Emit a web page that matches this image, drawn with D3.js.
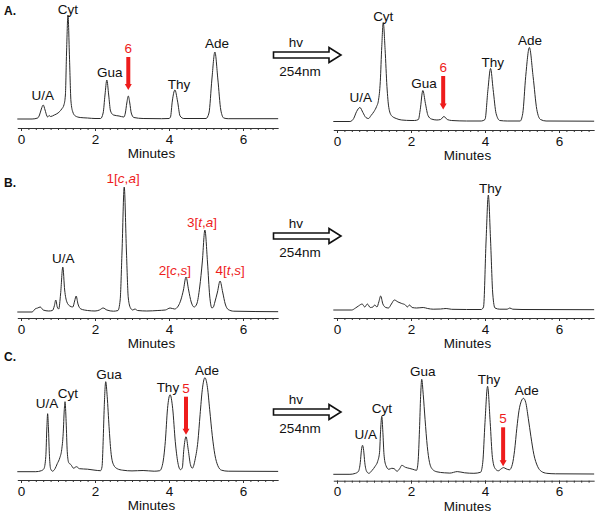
<!DOCTYPE html>
<html>
<head>
<meta charset="utf-8">
<script src="https://cdn.jsdelivr.net/npm/d3@7"></script>
<style>
body { margin: 0; background: #fff; }
text { font-family: "Liberation Sans", Arial, sans-serif; }
</style>
</head>
<body>
<div id="chart"></div>
<script>
// chromatogram traces: [retention time (min), detector signal]
var traceA1 = [[-0.1,0],[0.3,0],[0.45,1],[0.5,4],[0.55,10],[0.6,14],[0.65,9],[0.7,3],[0.72,2],[0.76,3.5],[0.8,2.5],[0.9,4],[1.0,6],[1.1,10],[1.16,14],[1.2,24],[1.23,65],[1.27,104],[1.31,62],[1.35,18],[1.4,7],[1.47,3],[1.6,1.5],[1.8,1],[2.0,0.5],[2.15,0.5],[2.22,6],[2.27,24],[2.32,39],[2.37,24],[2.42,8],[2.5,4],[2.65,3],[2.78,2],[2.82,6],[2.86,16],[2.9,23],[2.94,16],[2.98,6],[3.05,1.5],[3.3,0.5],[3.8,0.3],[4.0,0.5],[4.04,2],[4.09,18],[4.16,29],[4.23,18],[4.3,3],[4.4,0.5],[5.0,0.5],[5.08,6],[5.16,40],[5.24,67],[5.32,40],[5.4,9],[5.48,1],[5.6,0.3],[6.95,0.3]];
var traceA2 = [[-0.1,0],[0.35,0],[0.45,3],[0.53,10],[0.62,14],[0.7,9],[0.78,4],[0.85,3],[0.92,6],[1.0,10],[1.07,15],[1.12,21],[1.17,40],[1.21,75],[1.25,99],[1.3,72],[1.35,35],[1.4,14],[1.47,6],[1.6,3],[1.75,1.5],[2.0,1],[2.1,1],[2.2,2],[2.25,12],[2.32,31],[2.39,18],[2.46,6],[2.55,2.5],[2.7,1.5],[2.8,2],[2.89,5],[2.98,2],[3.1,1],[3.5,0.5],[3.9,0.5],[4.0,2],[4.08,32],[4.15,53],[4.22,32],[4.3,8],[4.4,1],[4.6,0.5],[4.95,0.5],[5.02,8],[5.1,45],[5.2,74],[5.3,45],[5.4,12],[5.5,2],[5.65,0.5],[6.95,0.3]];
var traceB1 = [[-0.1,0],[0.3,0],[0.38,3],[0.45,4],[0.52,5],[0.6,2],[0.75,1],[0.85,1.5],[0.9,6],[0.94,12],[0.98,5],[1.02,3],[1.07,18],[1.13,45],[1.18,22],[1.24,10],[1.32,6],[1.4,5],[1.45,11],[1.49,16],[1.54,8],[1.62,3],[1.8,1.5],[2.0,1],[2.12,2],[2.22,4],[2.32,2],[2.5,0.8],[2.62,1.5],[2.68,12],[2.73,60],[2.79,125],[2.85,60],[2.9,14],[2.96,4],[3.02,2],[3.08,3],[3.15,1.5],[3.4,1],[3.7,1.5],[3.9,2],[4.03,4],[4.15,3],[4.25,6],[4.32,12],[4.39,22],[4.46,35],[4.53,22],[4.6,10],[4.68,5],[4.75,8],[4.83,25],[4.9,50],[4.97,82],[5.04,50],[5.1,16],[5.16,4],[5.2,5],[5.24,10],[5.31,20],[5.38,31],[5.45,20],[5.52,8],[5.6,2.5],[5.75,0.8],[6.95,0.3]];
var traceB2 = [[-0.1,0],[0.4,0],[0.5,2],[0.58,4],[0.68,6],[0.75,3],[0.82,6],[0.9,2.5],[0.97,3],[1.02,5],[1.08,3],[1.13,8],[1.18,14],[1.24,6],[1.32,2.5],[1.39,2],[1.47,6],[1.55,10],[1.65,8],[1.75,6.5],[1.85,5],[1.9,3],[1.96,5],[2.03,2.5],[2.15,2],[2.33,2.5],[2.45,1.5],[2.6,0.8],[2.8,1],[2.95,1.5],[3.1,0.7],[3.5,0.5],[3.9,0.5],[3.96,3],[4.03,70],[4.09,115],[4.15,70],[4.21,16],[4.27,2],[4.4,0.8],[4.6,0.8],[4.67,2],[4.75,0.8],[5.0,0.5],[6.95,0.3]];
var traceC1 = [[-0.1,0],[0.4,0],[0.55,1],[0.62,3],[0.67,15],[0.7,45],[0.72,58],[0.74,45],[0.77,15],[0.8,3],[0.85,0.5],[0.92,3],[0.98,8],[1.05,14],[1.1,22],[1.14,38],[1.17,62],[1.19,70],[1.22,50],[1.25,20],[1.29,9],[1.35,7],[1.42,3.5],[1.5,5],[1.58,3],[1.8,2.5],[2.0,1.5],[2.15,1],[2.19,5],[2.22,30],[2.25,65],[2.29,90],[2.33,75],[2.38,45],[2.43,20],[2.5,7],[2.6,3],[2.75,1.5],[3.0,0.8],[3.3,1.2],[3.6,0.5],[3.75,1],[3.83,8],[3.9,30],[3.96,63],[4.03,77],[4.1,63],[4.17,30],[4.24,9],[4.31,2],[4.36,4],[4.4,22],[4.46,35],[4.52,22],[4.58,7],[4.63,3.5],[4.71,13],[4.78,30],[4.84,57],[4.9,82],[4.97,94],[5.04,84],[5.1,62],[5.17,36],[5.24,17],[5.32,6],[5.42,1.5],[5.6,0.5],[6.95,0.3]];
var traceC2 = [[-0.1,0],[0.35,0],[0.5,1],[0.58,3],[0.63,12],[0.66,24],[0.69,29],[0.72,24],[0.75,12],[0.8,3],[0.86,1],[0.95,4],[1.03,8],[1.1,13],[1.15,22],[1.18,45],[1.21,58],[1.24,42],[1.27,20],[1.32,9],[1.4,5],[1.48,6],[1.55,5.5],[1.62,3],[1.7,6],[1.75,9],[1.85,7],[1.95,6],[2.05,5],[2.15,4],[2.19,12],[2.23,45],[2.26,78],[2.29,95],[2.33,80],[2.38,55],[2.44,28],[2.5,12],[2.58,5],[2.7,2.5],[2.9,1.5],[3.05,1.2],[3.25,2.7],[3.45,1.5],[3.7,1],[3.88,2],[3.94,12],[4.0,52],[4.07,88],[4.14,52],[4.2,17],[4.27,6],[4.36,3.5],[4.44,5.5],[4.5,6.7],[4.57,5.5],[4.66,4.5],[4.74,10],[4.8,24],[4.86,46],[4.92,64],[4.98,73],[5.04,76],[5.1,72],[5.17,56],[5.24,38],[5.32,20],[5.42,8],[5.52,3],[5.67,1],[5.9,0.5],[6.95,0.3]];

var majorTicks = [0, 2, 4, 6];
var minorTicks = d3.range(0, 35).map(function (i) { return i * 0.2; });

// peak labels: [time, signal, text]
var labelsA1 = [[0.59,19,"U/A"],[1.27,105,"Cyt"],[2.4,42,"Gua"],[4.27,30,"Thy"],[5.3,71,"Ade"]];
var labelsA2 = [[0.64,20,"U/A"],[1.25,101,"Cyt"],[2.35,34,"Gua"],[4.21,55,"Thy"],[5.22,77,"Ade"]];
var labelsB1 = [[1.14,49,"U/A"],[2.76,129,"1[c,a]"],[4.16,37,"2[c,s]"],[4.89,85,"3[t,a]"],[5.65,37,"4[t,s]"]];
var labelsB2 = [[4.14,117,"Thy"]];
var labelsC1 = [[0.7,64,"U/A"],[1.27,74,"Cyt"],[2.38,93,"Gua"],[3.97,80,"Thy"],[5.03,97,"Ade"]];
var labelsC2 = [[0.78,35,"U/A"],[1.21,61,"Cyt"],[2.32,98,"Gua"],[4.11,90,"Thy"],[5.13,79,"Ade"]];

// red markers: [time, top signal, tip signal, text]
var markA1 = [2.9, 62, 29, "6"];
var markA2 = [2.87, 45.5, 12, "6"];
var markC1 = [4.46, 75, 37, "5"];
var markC2 = [4.49, 47, 8, "5"];

var panels = [
    { trace: traceA1, labels: labelsA1, mark: markA1, x0: 21, base: 119, axisY: 128, letter: "A.", letterY: 15 },
    { trace: traceA2, labels: labelsA2, mark: markA2, x0: 337, base: 121.5, axisY: 130 },
    { trace: traceB1, labels: labelsB1, mark: null, x0: 21, base: 312, axisY: 318, letter: "B.", letterY: 187 },
    { trace: traceB2, labels: labelsB2, mark: null, x0: 337, base: 310, axisY: 318 },
    { trace: traceC1, labels: labelsC1, mark: markC1, x0: 21, base: 471.7, axisY: 480, letter: "C.", letterY: 361 },
    { trace: traceC2, labels: labelsC2, mark: markC2, x0: 337, base: 474.3, axisY: 480.7 }
];
var hvArrows = [55, 236, 412];

var pxPerMin = 37;
var red = "#ee1c1c";
var fs = 13.5;

var svg = d3.select("#chart")
    .append("svg")
    .attr("width", 600)
    .attr("height", 515);

panels.forEach(function (p) {
    var x = d3.scaleLinear()
        .domain([-0.1, 6.95])
        .range([p.x0 - 0.1 * pxPerMin, p.x0 + 6.95 * pxPerMin]);
    var y = d3.scaleLinear()
        .domain([0, 100])
        .range([p.base, p.base - 100]);
    var g = svg.append("g");

    g.append("path")
        .datum(p.trace)
        .attr("fill", "none")
        .attr("stroke", "#2a2a2a")
        .attr("stroke-width", 1)
        .attr("d", d3.line()
            .x(function (d) { return x(d[0]); })
            .y(function (d) { return y(d[1]); })
            .curve(d3.curveMonotoneX));

    // minor ticks
    g.append("g")
        .attr("transform", "translate(0," + p.axisY + ")")
        .call(d3.axisBottom(x).tickValues(minorTicks).tickSize(2).tickSizeOuter(0).tickFormat(""))
        .call(function (a) { a.selectAll("path,line").attr("stroke", "#333"); });

    // major ticks and labels
    var major = g.append("g")
        .attr("transform", "translate(0," + p.axisY + ")")
        .call(d3.axisBottom(x).tickValues(majorTicks).tickSize(3).tickSizeOuter(0).tickPadding(3).tickFormat(d3.format("d")));
    major.select(".domain").remove();
    major.selectAll("line").attr("stroke", "#333");
    major.selectAll("text")
        .attr("font-size", fs)
        .attr("fill", "#111")
        .attr("font-family", "Liberation Sans, Arial, sans-serif");

    g.append("text")
        .attr("x", x(3.5) + 1)
        .attr("y", p.axisY + 30)
        .attr("text-anchor", "middle")
        .attr("font-size", fs)
        .attr("fill", "#111")
        .text("Minutes");

    p.labels.forEach(function (l) {
        var t = g.append("text")
            .attr("x", x(l[0]))
            .attr("y", y(l[1]))
            .attr("text-anchor", "middle")
            .attr("font-size", fs)
            .attr("fill", l[2].indexOf("[") >= 0 ? red : "#111");
        if (l[2].indexOf("[") >= 0) {
            l[2].split("").forEach(function (ch) {
                t.append("tspan")
                    .attr("font-style", /[a-z]/.test(ch) ? "italic" : "normal")
                    .text(ch);
            });
        } else {
            t.text(l[2]);
        }
    });

    if (p.mark) {
        var mx = x(p.mark[0]), top = y(p.mark[1]), tip = y(p.mark[2]);
        g.append("line")
            .attr("x1", mx).attr("x2", mx)
            .attr("y1", top).attr("y2", tip - 5)
            .attr("stroke", red)
            .attr("stroke-width", 4);
        g.append("path")
            .attr("d", "M" + (mx - 3.5) + "," + (tip - 6) + "L" + (mx + 3.5) + "," + (tip - 6) + "L" + mx + "," + tip + "Z")
            .attr("fill", red);
        g.append("text")
            .attr("x", mx)
            .attr("y", top - 4)
            .attr("text-anchor", "middle")
            .attr("font-size", fs)
            .attr("fill", red)
            .text(p.mark[3]);
    }

    if (p.letter) {
        svg.append("text")
            .attr("x", 4)
            .attr("y", p.letterY)
            .attr("font-size", 12)
            .attr("font-weight", "bold")
            .attr("fill", "#111")
            .text(p.letter);
    }
});

// hollow reaction arrows between the columns
hvArrows.forEach(function (cy) {
    var x1 = 273.5, x2 = 341, hx = 329, sh = 3, hh = 7.5;
    svg.append("path")
        .attr("d", "M" + x1 + "," + (cy - sh) + "L" + hx + "," + (cy - sh) + "L" + hx + "," + (cy - hh) +
            "L" + x2 + "," + cy + "L" + hx + "," + (cy + hh) + "L" + hx + "," + (cy + sh) +
            "L" + x1 + "," + (cy + sh) + "Z")
        .attr("fill", "#fff")
        .attr("stroke", "#111")
        .attr("stroke-width", 1.6);
    svg.append("text")
        .attr("x", 296)
        .attr("y", cy - 8)
        .attr("text-anchor", "middle")
        .attr("font-size", fs)
        .attr("fill", "#111")
        .text("hv");
    svg.append("text")
        .attr("x", 300)
        .attr("y", cy + 21)
        .attr("text-anchor", "middle")
        .attr("font-size", fs)
        .attr("fill", "#111")
        .text("254nm");
});
</script>
</body>
</html>
